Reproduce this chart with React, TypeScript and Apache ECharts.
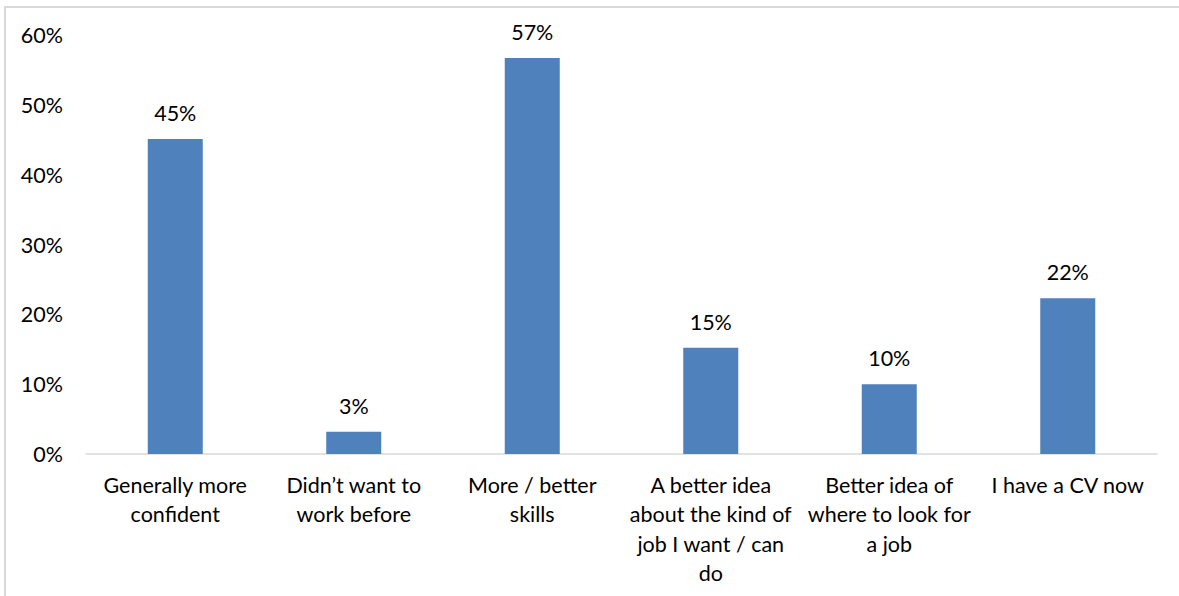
import React, { useEffect, useRef } from "react";
import * as echarts from "echarts";

const categories = [
  "Generally more\nconfident",
  "Didn\u2019t want to\nwork before",
  "More / better\nskills",
  "A better idea\nabout the kind of\njob I want / can\ndo",
  "Better idea of\nwhere to look for\na job",
  "I have a CV now",
];
const values = [45.1, 3.2, 56.7, 15.2, 10.0, 22.3];
const yTicks = [0, 10, 20, 30, 40, 50, 60];

const FONT = "Lato";
const FS = 21.5;

export default function App() {
  const ref = useRef<HTMLDivElement>(null);
  useEffect(() => {
    const chart = echarts.init(ref.current!, null, { renderer: "svg" });
    chart.setOption({
      animation: false,
      backgroundColor: "#ffffff",
      graphic: [
        {
          type: "rect",
          shape: { x: 5, y: 7, width: 1300, height: 800 },
          style: { fill: "none", stroke: "#d9d9d9", lineWidth: 2 },
          silent: true,
        },
      ],
      grid: { left: 86, right: 22, top: 35, bottom: 142, containLabel: false },
      xAxis: {
        type: "category",
        data: categories,
        axisLine: { show: true, lineStyle: { color: "#d9d9d9", width: 1.5 } },
        axisTick: { show: false },
        axisLabel: {
          interval: 0,
          margin: 16,
          color: "#000",
          fontFamily: FONT,
          fontSize: FS,
          lineHeight: 29.5,
        },
      },
      yAxis: {
        type: "value",
        min: yTicks[0],
        max: yTicks[yTicks.length - 1],
        interval: 10,
        axisLine: { show: false },
        axisTick: { show: false },
        splitLine: { show: false },
        axisLabel: {
          margin: 23,
          color: "#000",
          fontFamily: FONT,
          fontSize: FS,
          formatter: (v: number) => `${v}%`,
        },
      },
      series: [
        {
          type: "bar",
          data: values,
          barWidth: 55,
          itemStyle: { color: "#4f81bd" },
          label: {
            show: true,
            position: "top",
            distance: 15,
            color: "#000",
            fontFamily: FONT,
            fontSize: FS,
            formatter: (p: any) => `${Math.round(p.value)}%`,
          },
        },
      ],
    });
    return () => chart.dispose();
  }, []);
  return (
    <div
      ref={ref}
      style={{ position: "absolute", left: 0, top: 0, width: 1179, height: 596 }}
    />
  );
}
